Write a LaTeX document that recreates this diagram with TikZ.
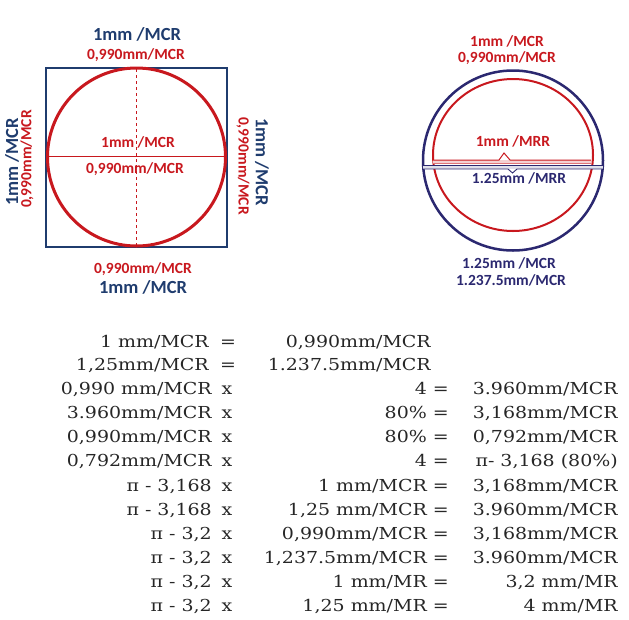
\documentclass[tikz,border=0pt]{standalone}
\usepackage{fontspec}
\setmainfont[FakeStretch=1.15]{DejaVu Serif}
\newfontfamily\lblfont{Carlito}
\definecolor{sqnavy}{HTML}{1F3C6E}
\definecolor{rgnavy}{HTML}{2B2870}
\definecolor{mcrred}{HTML}{C8181E}
\begin{document}
\begin{tikzpicture}[x=1pt,y=-1pt,
  big/.style={inner sep=0pt,font=\lblfont\bfseries\fontsize{18.5}{20}\selectfont},
  small/.style={inner sep=0pt,font=\lblfont\bfseries\fontsize{15.5}{17}\selectfont},
  tab/.style={inner sep=0pt,anchor=base east,text=black!85,font=\fontsize{16.5}{18}\selectfont},
  op/.style={inner sep=0pt,anchor=base,text=black!85,font=\fontsize{16.5}{18}\selectfont}]
\useasboundingbox (0,0) rectangle (629,619);
% square with circle
\draw[sqnavy,line width=2.5pt] (46,68) rectangle (227,247);
\draw[mcrred,line width=3pt] (136.5,157) circle (89);
\draw[mcrred,line width=0.6pt] (47,156) -- (226,156);
\draw[mcrred,line width=0.6pt,dashed] (136.5,69) -- (136.5,246);
\node[big,text=sqnavy] (sqtop) at (137,34) {1mm /MCR};
\node[small,text=mcrred] (sqtopr) at (136,55) {0,990mm/MCR};
\node[small,text=mcrred] (sqin1) at (138,142) {1mm /MCR};
\node[small,text=mcrred] (sqin2) at (135,169) {0,990mm/MCR};
\node[small,text=mcrred] (sqbotr) at (143,269) {0,990mm/MCR};
\node[big,text=sqnavy] (sqbot) at (143,287) {1mm /MCR};
\node[big,text=sqnavy,rotate=90] (sqleft) at (12,162) {1mm /MCR};
\node[small,text=mcrred,rotate=90] (sqleftr) at (27,159) {0,990mm/MCR};
\node[small,text=mcrred,rotate=-90] (sqrightr) at (243,166) {0,990mm/MCR};
\node[big,text=sqnavy,rotate=-90] (sqright) at (262,162) {1mm /MCR};
% ring
\draw[rgnavy,line width=2.5pt] (513,160.5) circle (90);
\draw[mcrred,line width=2pt] (513,155) ellipse (80 and 76);
\fill[mcrred!20] (433,160) rectangle (591,163.5);
\draw[mcrred,line width=1pt] (433,160) -- (499,160) -- (504,153) -- (510,160) -- (591,160);
\draw[mcrred!60,line width=0.8pt] (433,163.5) -- (591,163.5);
\fill[rgnavy!15] (423,165.5) rectangle (603,169);
\draw[rgnavy,line width=0.9pt] (423,165.5) -- (603,165.5);
\draw[rgnavy,line width=0.9pt] (423,169) -- (508,169) -- (512.5,173) -- (517,169) -- (603,169);
\node[small,text=mcrred] (rgtop1) at (507,41) {1mm /MCR};
\node[small,text=mcrred] (rgtop2) at (507,58) {0,990mm/MCR};
\node[small,text=mcrred] (rgin1) at (513,141) {1mm /MRR};
\node[small,text=rgnavy] (rgin2) at (519,178) {1.25mm /MRR};
\node[small,text=rgnavy] (rgbot1) at (509,263) {1.25mm /MCR};
\node[small,text=rgnavy] (rgbot2) at (511,280) {1.237.5mm/MCR};
% table
\node[tab] (a1) at (209,347) {1 mm/MCR};
\node[op] (o1) at (228,347) {=};
\node[tab] (b1) at (431,347) {0,990mm/MCR};
\node[tab] (a2) at (209,370) {1,25mm/MCR};
\node[op] (o2) at (228,370) {=};
\node[tab] (b2) at (431,370) {1.237.5mm/MCR};
\node[tab] (a3) at (212,394) {0,990 mm/MCR};
\node[op] (o3) at (227,394) {x};
\node[tab] (b3) at (449,394) {4 =};
\node[tab] (c3) at (618,394) {3.960mm/MCR};
\node[tab] (a4) at (212,418) {3.960mm/MCR};
\node[op] (o4) at (227,418) {x};
\node[tab] (b4) at (449,418) {80\% =};
\node[tab] (c4) at (618,418) {3,168mm/MCR};
\node[tab] (a5) at (212,442) {0,990mm/MCR};
\node[op] (o5) at (227,442) {x};
\node[tab] (b5) at (449,442) {80\% =};
\node[tab] (c5) at (618,442) {0,792mm/MCR};
\node[tab] (a6) at (212,466) {0,792mm/MCR};
\node[op] (o6) at (227,466) {x};
\node[tab] (b6) at (449,466) {4 =};
\node[tab] (c6) at (618,466) {π- 3,168 (80\%)};
\node[tab] (a7) at (212,491) {π - 3,168};
\node[op] (o7) at (227,491) {x};
\node[tab] (b7) at (449,491) {1 mm/MCR =};
\node[tab] (c7) at (618,491) {3,168mm/MCR};
\node[tab] (a8) at (212,515) {π - 3,168};
\node[op] (o8) at (227,515) {x};
\node[tab] (b8) at (449,515) {1,25 mm/MCR =};
\node[tab] (c8) at (618,515) {3.960mm/MCR};
\node[tab] (a9) at (212,539) {π - 3,2};
\node[op] (o9) at (227,539) {x};
\node[tab] (b9) at (449,539) {0,990mm/MCR =};
\node[tab] (c9) at (618,539) {3,168mm/MCR};
\node[tab] (a10) at (212,563) {π - 3,2};
\node[op] (o10) at (227,563) {x};
\node[tab] (b10) at (449,563) {1,237.5mm/MCR =};
\node[tab] (c10) at (618,563) {3.960mm/MCR};
\node[tab] (a11) at (212,587) {π - 3,2};
\node[op] (o11) at (227,587) {x};
\node[tab] (b11) at (449,587) {1 mm/MR =};
\node[tab] (c11) at (618,587) {3,2 mm/MR};
\node[tab] (a12) at (212,611) {π - 3,2};
\node[op] (o12) at (227,611) {x};
\node[tab] (b12) at (449,611) {1,25 mm/MR =};
\node[tab] (c12) at (618,611) {4 mm/MR};
\end{tikzpicture}
\end{document}
